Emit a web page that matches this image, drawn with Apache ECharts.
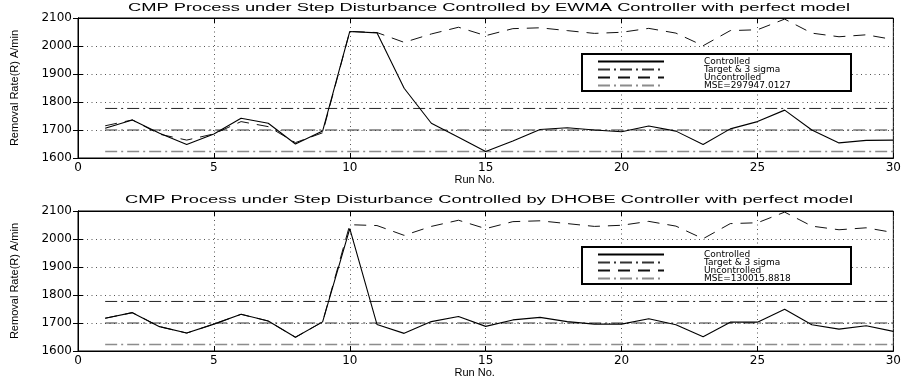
<!DOCTYPE html>
<html>
<head>
<meta charset="utf-8">
<script src="https://cdn.jsdelivr.net/npm/echarts@6/dist/echarts.min.js"></script>
<style>
  html, body { margin: 0; background: #fff; }
  #chart { width: 904px; height: 382px; }
</style>
</head>
<body>
<div id="chart"></div>
<script>
// run numbers
const runs = [1, 2, 3, 4, 5, 6, 7, 8, 9, 10, 11, 12, 13, 14, 15, 16, 17, 18, 19, 20, 21, 22, 23, 24, 25, 26, 27, 28, 29, 30];

// EWMA panel
const ewmaControlled = [1706, 1736, 1688, 1648, 1686, 1742, 1724, 1650, 1696, 2052, 2047, 1849, 1724, 1674, 1623, 1661, 1702, 1708, 1700, 1694, 1714, 1696, 1648, 1704, 1730, 1771, 1700, 1654, 1663, 1664];
const ewmaUncontrolled = [1715, 1736, 1685, 1664, 1686, 1730, 1712, 1655, 1690, 2052, 2048, 2013, 2043, 2067, 2037, 2062, 2065, 2055, 2045, 2049, 2063, 2046, 2001, 2055, 2058, 2096, 2046, 2033, 2040, 2023];

// DHOBE panel
const dhobeControlled = [1717, 1737, 1687, 1664, 1696, 1731, 1707, 1649, 1704, 2037, 1695, 1663, 1705, 1723, 1688, 1711, 1720, 1705, 1696, 1696, 1715, 1694, 1651, 1703, 1703, 1749, 1694, 1678, 1690, 1670];
const dhobeUncontrolled = [1717, 1737, 1687, 1664, 1696, 1731, 1707, 1649, 1704, 2051, 2048, 2013, 2045, 2067, 2037, 2062, 2065, 2055, 2045, 2049, 2063, 2046, 2001, 2055, 2058, 2096, 2046, 2033, 2040, 2023];

// target and 3 sigma limits: lower, target, upper
const limits = [1623, 1700, 1777];

const titles = [
  'CMP Process under Step Disturbance Controlled by EWMA Controller with perfect model',
  'CMP Process under Step Disturbance Controlled by DHOBE Controller with perfect model'
];
const mseLabels = ['MSE=297947.0127', 'MSE=130015.8818'];
const seriesNames = ['Controlled', 'Target & 3 sigma', 'Uncontrolled'];

const panels = [
  { controlled: ewmaControlled, uncontrolled: ewmaUncontrolled, top: 18, titleY: 8, titleW: 722 },
  { controlled: dhobeControlled, uncontrolled: dhobeUncontrolled, top: 211, titleY: 200, titleW: 728 }
];

const chart = echarts.init(document.getElementById('chart'));

// the picture is stretched sideways, so stretch the title text to match
const ctx = document.createElement('canvas').getContext('2d');
const titleFont = '10px "Liberation Sans", Arial, sans-serif';
ctx.font = titleFont;

const dashDot = [12, 4, 2, 4];
const firstRun = runs[0];
const lastRun = runs[runs.length - 1];
const flat = (v) => [[firstRun, v], [lastRun, v]];
const pairs = (vals) => runs.map((r, k) => [r, vals[k]]);

const grid = [];
const xAxis = [];
const yAxis = [];
const series = [];
const legend = [];
const graphic = [];

panels.forEach((p, i) => {
  grid.push({
    left: 78, right: 8, top: p.top, height: 140,
    show: true, borderColor: '#000', borderWidth: 1, backgroundColor: '#fff'
  });

  const tick = { show: true, inside: true, length: 5, lineStyle: { color: '#000' } };
  const line = { show: true, lineStyle: { color: '#000', width: 1 } };
  const labelFont = { fontFamily: 'DejaVu Sans', fontSize: 12, color: '#000' };
  const dotted = { show: true, lineStyle: { color: '#555', type: [1, 3.5], width: 1 } };

  xAxis.push({
    type: 'value', gridIndex: i, min: 0, max: 30, interval: 5,
    axisLine: line, axisTick: tick,
    axisLabel: { margin: 4, ...labelFont },
    splitLine: dotted,
    name: 'Run No.', nameLocation: 'middle', nameGap: 14,
    nameTextStyle: { fontFamily: 'Liberation Sans', fontSize: 11, color: '#000', padding: [0, 22, 0, 0] }
  });
  xAxis.push({
    type: 'value', gridIndex: i, position: 'top', min: 0, max: 30, interval: 5,
    axisLine: line, axisTick: tick, axisLabel: { show: false }, splitLine: { show: false }
  });
  yAxis.push({
    type: 'value', gridIndex: i, min: 1600, max: 2100, interval: 100,
    axisLine: line, axisTick: tick,
    axisLabel: { margin: 6, formatter: (v) => String(v), ...labelFont },
    splitLine: dotted,
    name: 'Removal Rate(R) A/min', nameLocation: 'middle', nameGap: 58,
    nameTextStyle: { fontFamily: 'Liberation Sans', fontSize: 11, color: '#000' }
  });
  yAxis.push({
    type: 'value', gridIndex: i, position: 'right', min: 1600, max: 2100, interval: 100,
    axisLine: line, axisTick: tick, axisLabel: { show: false }, splitLine: { show: false }
  });

  const ax = { xAxisIndex: 2 * i, yAxisIndex: 2 * i, symbol: 'none', silent: true, animation: false };

  series.push({
    ...ax, type: 'line', name: 'MSE ' + i, data: flat(limits[0]),
    lineStyle: { color: '#8c8c8c', width: 1.6, type: dashDot }, z: 2
  });
  series.push({
    ...ax, type: 'line', name: 'Target & 3 sigma', data: flat(limits[1]),
    lineStyle: { color: '#333', width: 1, type: dashDot }, z: 3
  });
  series.push({
    ...ax, type: 'line', name: 'Target & 3 sigma', data: flat(limits[2]),
    lineStyle: { color: '#222', width: 1, type: dashDot }, z: 3
  });
  series.push({
    ...ax, type: 'line', name: 'Uncontrolled', data: pairs(p.uncontrolled),
    lineStyle: { color: '#111', width: 1, type: [12, 8] }, z: 4
  });
  series.push({
    ...ax, type: 'line', name: 'Controlled', data: pairs(p.controlled),
    lineStyle: { color: '#000', width: 1.1, type: 'solid' }, z: 5
  });

  legend.push({
    orient: 'vertical', left: 582, top: p.top + 36,
    padding: [3, 35, 1, 15], itemGap: -1, itemWidth: 66, itemHeight: 7,
    backgroundColor: '#fff', borderColor: '#000', borderWidth: 2, borderRadius: 0,
    selectedMode: false,
    itemStyle: { color: 'transparent', borderColor: 'transparent', borderWidth: 0 },
    data: [...seriesNames, 'MSE ' + i],
    formatter: (name) => (name.startsWith('MSE') ? mseLabels[i] : name),
    textStyle: {
      fontFamily: 'DejaVu Sans', fontSize: 9, lineHeight: 9, color: '#000',
      width: 112, padding: [0, 0, 0, 35]
    }
  });

  const w = ctx.measureText(titles[i]).width;
  graphic.push({
    type: 'text', x: 489, y: p.titleY, scaleX: p.titleW / w, silent: true,
    style: { text: titles[i], font: titleFont, fill: '#000', align: 'center', verticalAlign: 'middle' }
  });
});

chart.setOption({
  backgroundColor: '#fff',
  animation: false,
  grid, xAxis, yAxis, series, legend, graphic
});
</script>
</body>
</html>
